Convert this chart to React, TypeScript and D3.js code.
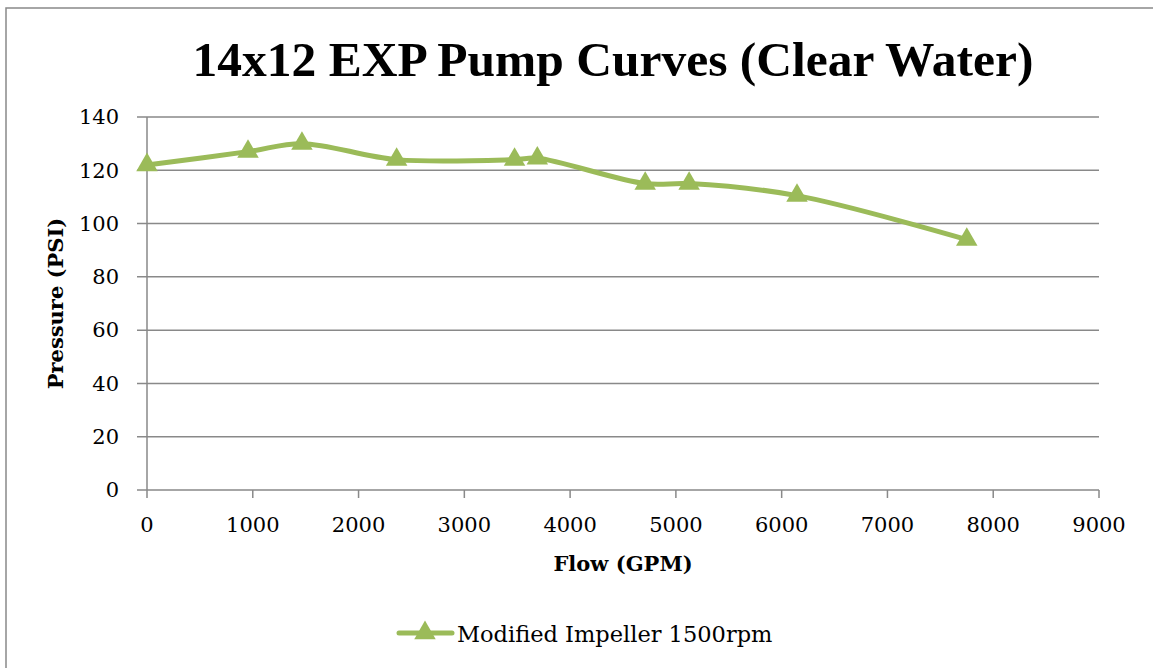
import * as d3 from "d3";

const flow = [0, 955, 1465, 2360, 3475, 3690, 4710, 5125, 6145, 7750];
const pressure = [122, 127, 130, 124, 124, 124.5, 115, 115, 110.5, 94];
const xTicks = [0, 1000, 2000, 3000, 4000, 5000, 6000, 7000, 8000, 9000];
const yTicks = [0, 20, 40, 60, 80, 100, 120, 140];
const seriesName = "Modified Impeller 1500rpm";

const W = 1153;
const H = 668;
const FONT = "'DejaVu Serif', serif";
const GREEN = "#9bbb59";
const GRID = "#898989";

const plot = { left: 147, right: 1099, top: 117, bottom: 490 };

export default function App() {
  const x = d3.scaleLinear().domain([0, 9000]).range([plot.left, plot.right]);
  const y = d3.scaleLinear().domain([0, 140]).range([plot.bottom, plot.top]);

  const pts = flow.map((f, i) => [f, pressure[i]] as [number, number]);
  const line = d3.line<[number, number]>()
    .x(d => x(d[0]))
    .y(d => y(d[1]))
    .curve(d3.curveCatmullRom.alpha(0.5));

  const tri = d3.symbol().type(d3.symbolTriangle).size(200)();

  return (
    <svg width={W} height={H} style={{ position: "absolute", left: 0, top: 0, fontFamily: FONT }}>
      <rect x={0} y={0} width={W} height={H} fill="#fff" />
      <rect x={6} y={8} width={W + 20} height={H + 20} fill="none" stroke={GRID} strokeWidth={1.5} />

      <text x={613} y={76} textAnchor="middle" fontSize={49.5} fontWeight="bold" fill="#000"
        style={{ fontFamily: "'Liberation Serif', serif" }}>
        14x12 EXP Pump Curves (Clear Water)
      </text>

      {/* gridlines + y ticks */}
      {yTicks.map(t => (
        <g key={t}>
          <line x1={plot.left - 10} x2={plot.right} y1={y(t)} y2={y(t)} stroke={GRID} strokeWidth={1.5} />
          <text x={119} y={y(t)} dy="0.35em" textAnchor="end" fontSize={21} fill="#000">{t}</text>
        </g>
      ))}
      <line x1={plot.left} x2={plot.left} y1={plot.top} y2={plot.bottom} stroke={GRID} strokeWidth={1.5} />

      {/* x ticks */}
      {xTicks.map(t => (
        <g key={t}>
          <line x1={x(t)} x2={x(t)} y1={plot.bottom} y2={plot.bottom + 8} stroke={GRID} strokeWidth={1.5} />
          <text x={x(t)} y={532} textAnchor="middle" fontSize={21} fill="#000">{t}</text>
        </g>
      ))}

      <text x={623} y={571} textAnchor="middle" fontSize={21} fontWeight="bold">Flow (GPM)</text>
      <text transform={`translate(63,${(plot.top + plot.bottom) / 2}) rotate(-90)`} textAnchor="middle" fontSize={21} fontWeight="bold">
        Pressure (PSI)
      </text>

      <path d={line(pts) || ""} fill="none" stroke={GREEN} strokeWidth={5} strokeLinecap="round" />
      {pts.map((p, i) => (
        <path key={i} d={tri || ""} transform={`translate(${x(p[0])},${y(p[1])})`} fill={GREEN} />
      ))}

      {/* legend */}
      <line x1={399} x2={452} y1={633} y2={633} stroke={GREEN} strokeWidth={5} strokeLinecap="round" />
      <path d={tri || ""} transform="translate(425,633)" fill={GREEN} />
      <text x={457} y={642} fontSize={22.5}>{seriesName}</text>
    </svg>
  );
}
